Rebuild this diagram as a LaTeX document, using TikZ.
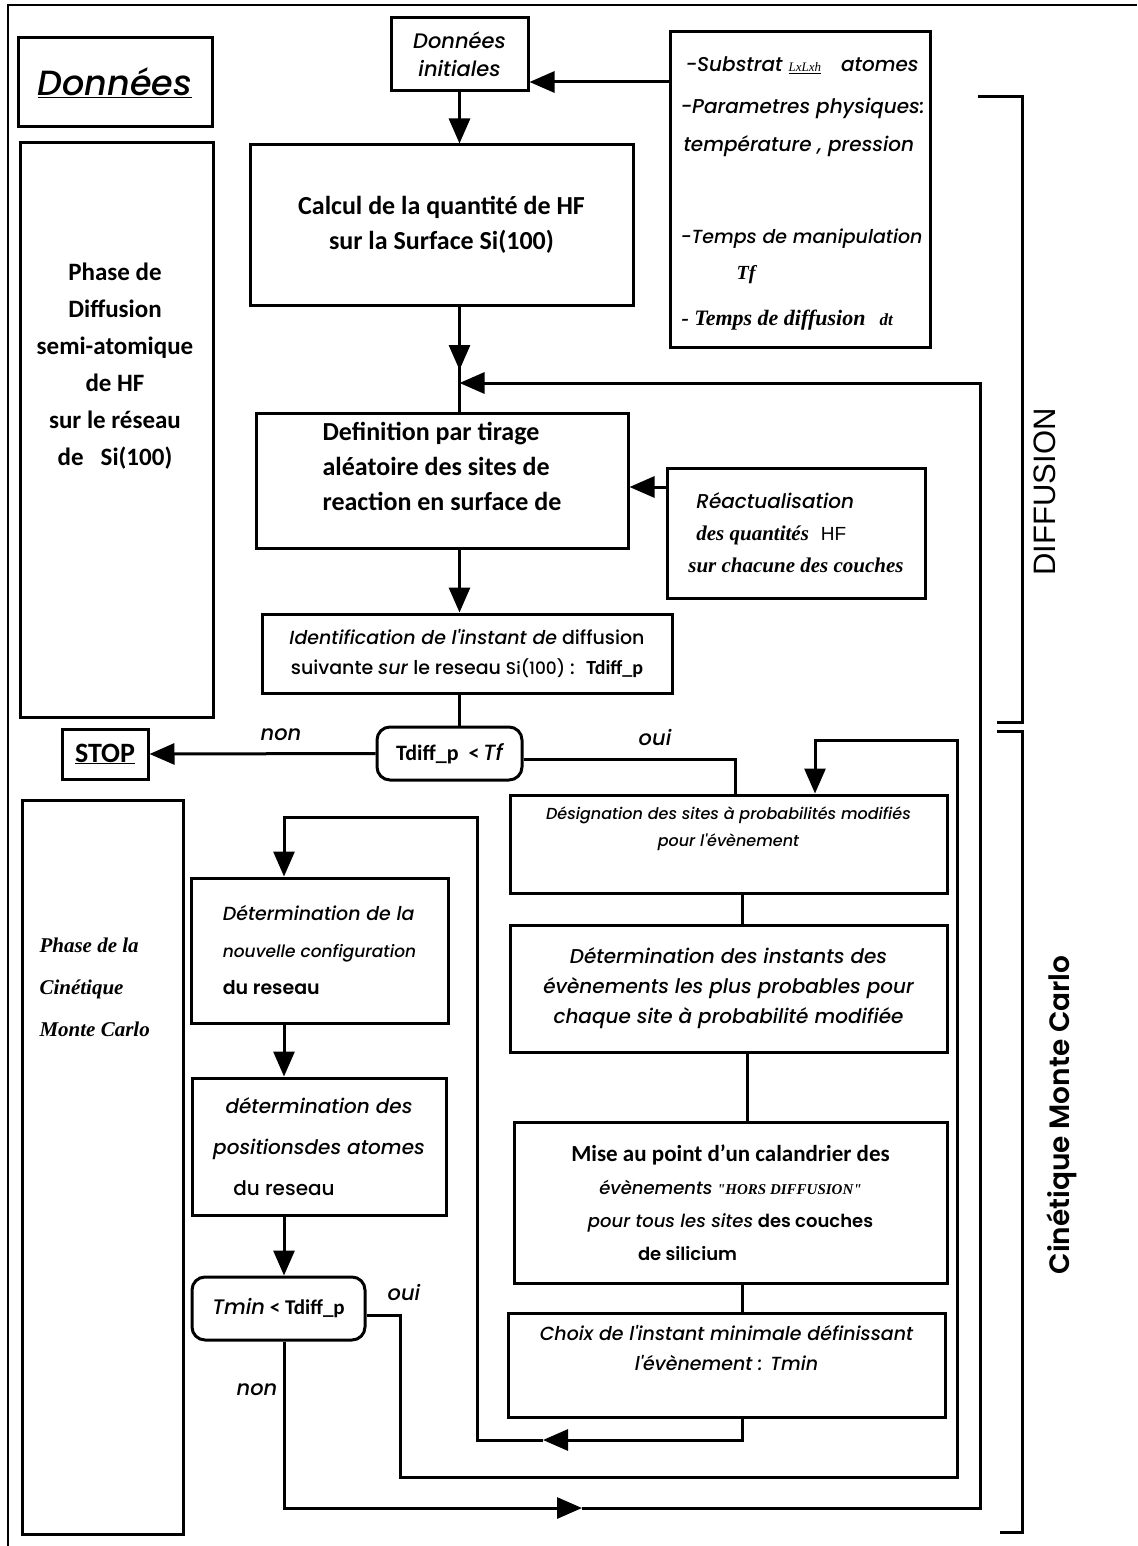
\documentclass[tikz,border=0pt]{standalone}
\usepackage{fontspec}
\usepackage{tikz}
\usetikzlibrary{arrows.meta}
\setmainfont{Carlito}
\newfontfamily\gothic{Poppins}[UprightFont=* Medium,ItalicFont=* Medium Italic,BoldFont=* SemiBold,BoldItalicFont=* SemiBold Italic]
\newfontfamily\romanit{Liberation Serif}
\newfontfamily\helv{Liberation Sans}
\newcommand{\fs}[2]{\fontsize{#1}{#2}\selectfont}

\begin{document}
\begin{tikzpicture}[x=1pt,y=-1pt,
  box/.style={draw,line width=3pt,inner sep=0pt,align=center},
  test/.style={box,rounded corners=13pt},
  link/.style={line width=3pt},
  arr/.style={link,-{Triangle[length=25pt,width=21pt]}},
  brace/.style={line width=3pt},
  lbl/.style={font={\gothic\itshape\fs{21}{24}}}]
\useasboundingbox (0,0) rectangle (1137,1546);

% outer frame
\draw[line width=2.5pt] (8,1546) -- (8,5) -- (1137,5);

% left column
\node[box,minimum width=194,minimum height=89,font={\gothic\itshape\fs{35}{40}}] (data) at (115,82.5) {\underline{Données}};
\node[box,minimum width=193,minimum height=574] (phdiff) at (116.5,430) {};
\node[align=center,font={\bfseries\fs{25}{37}}] (phdifftxt) at (115,366) {Phase de\\Diffusion\\semi-atomique\\de HF\\sur le réseau\\de \ \ Si(100)};
\node[box,minimum width=86,minimum height=50,font={\bfseries\fs{28}{30}}] (stop) at (105,754) {\underline{STOP}};
\node[box,minimum width=161,minimum height=734] (phcin) at (102.5,1167) {};
\node[anchor=west,align=left,font={\romanit\bfseries\itshape\fs{21}{42}}] (phcintxt) at (36,987) {Phase de la\\ Cinétique\\ Monte Carlo};

% initial data
\node[box,minimum width=137,minimum height=73,font={\gothic\itshape\fs{21}{28}}] (datinit) at (459.5,54.5) {Données\\initiales};
\node[box,minimum width=260,minimum height=315] (params) at (800,189.5) {};
\node[anchor=west,font={\gothic\itshape\fs{20}{24}}] (p1) at (682,65) {-Substrat {\romanit\fs{13}{13}\underline{LxLxh}}\quad atomes};
\node[anchor=west,font={\gothic\itshape\fs{20}{24}}] (p2) at (677,108) {-Parametres physiques:};
\node[anchor=west,font={\gothic\itshape\fs{20}{24}}] (p3) at (680,146) {température , pression};
\node[anchor=west,font={\gothic\itshape\fs{19}{24}}] (p4) at (677,239) {-Temps de manipulation};
\node[anchor=west,font={\romanit\bfseries\itshape\fs{20}{24}}] (p5) at (733,275) {Tf};
\node[anchor=west,font={\romanit\bfseries\itshape\fs{22}{24}}] (p6) at (678,320) {- Temps de diffusion\hspace{14pt}{\fs{17}{17}dt}};

% diffusion phase
\node[box,minimum width=383,minimum height=160,font={\bfseries\fs{26}{35}}] (calc) at (441.5,225) {Calcul de la quantité de HF\\sur la Surface Si(100)};
\node[box,minimum width=372,minimum height=135,align=left,font={\bfseries\fs{26}{35}}] (defi) at (442,480.5) {Definition par tirage\\aléatoire des sites de\\reaction en surface de\\[-6pt]\ };
\node[box,minimum width=258,minimum height=130,align=left,font={\gothic\itshape\fs{20}{32}}] (reac) at (796,533) {\hspace*{8pt}Réactualisation\\\hspace*{8pt}{\romanit\bfseries\fs{21}{32}des quantités}\ \ {\helv\upshape\fs{19}{32}HF}\\{\romanit\bfseries\fs{21}{32}sur chacune des couches}};
\node[box,minimum width=410,minimum height=79,font={\gothic\fs{19}{30}}] (ident) at (467,653.5) {\textit{Identification de l'instant de} diffusion\\suivante \textit{sur} le reseau {\fs{17}{30}Si(100)} : \ {\rmfamily\bfseries\fs{20}{30}Tdiff\_p}};
\node[test,minimum width=145,minimum height=53,font={\bfseries\fs{22}{24}}] (dec1) at (449.5,753.5) {Tdiff\_p \ <{\gothic\itshape\mdseries\,Tf}};

% kinetic Monte Carlo phase
\node[box,minimum width=437,minimum height=98,font={\gothic\itshape\fs{16}{27}}] (desig) at (728.5,844) {Désignation des sites à probabilités modifiés\\pour l'évènement\\[8pt]};
\node[box,minimum width=437,minimum height=127,font={\gothic\itshape\fs{20}{30}}] (inst) at (728.5,988.5) {Détermination des instants des\\évènements les plus probables pour\\chaque site à probabilité modifiée};
\node[box,minimum width=433,minimum height=161,font={\gothic\fs{18}{33}}] (mise) at (730.5,1202.5) {{\bfseries\rmfamily\fs{23}{33}Mise au point d'un calandrier des}\\\textit{évènements} {\romanit\bfseries\itshape\fs{15}{33}"HORS DIFFUSION"}\\\textit{pour tous les sites} {\bfseries des couches}\\{\bfseries de silicium}\hspace*{86pt}};
\node[box,minimum width=437,minimum height=104,font={\gothic\itshape\fs{19}{30}}] (choix) at (726.5,1365) {Choix de l'instant minimale définissant\\l'évènement : Tmin\\[4pt]};
\node[box,minimum width=257,minimum height=145,align=left,font={\gothic\fs{19}{37}}] (config) at (319.5,950.5) {\textit{Détermination de la}\\\textit{\fs{17}{37}nouvelle configuration}\\{\bfseries du reseau}};
\node[box,minimum width=254,minimum height=137,font={\gothic\itshape\fs{20}{41}}] (pos) at (319,1146.5) {détermination des\\positionsdes atomes\\{\upshape du reseau}\hspace*{70pt}};
\node[test,minimum width=173,minimum height=63,font={\bfseries\fs{21}{24}}] (tmin) at (278.5,1308.5) {{\gothic\itshape\mdseries Tmin} < Tdiff\_p};

% decision labels
\node[lbl] (non1) at (281,735) {non};
\node[lbl] (oui1) at (655,738) {oui};
\node[lbl] (oui2) at (404,1292) {oui};
\node[lbl] (non2) at (257,1390) {non};

% side brackets
\draw[brace] (978,97) -- (1022,97) -- (1022,722) -- (997,722);
\draw[brace] (997,731) -- (1022,731) -- (1022,1532) -- (1000,1532);
\node[rotate=90,font={\helv\fs{31}{32}}] (diffl) at (1045,492) {DIFFUSION};
\node[rotate=90,font={\gothic\bfseries\fs{28}{30}}] (kmcl) at (1062,1115) {Cinétique Monte Carlo};

% axes of the flow
\coordinate (axC) at (datinit.south);
\coordinate (axR) at (742,0);
\coordinate (axM) at (284,0);

% diffusion links
\draw[arr] (params.west |- 0,82) -- (datinit.east |- 0,82);
\draw[arr] (datinit.south) -- (axC |- calc.north);
\draw[arr] (axC |- calc.south) -- (axC |- 0,370);
\draw[link] (axC |- 0,360) -- (axC |- defi.north);
\draw[arr] (reac.west |- 0,487) -- (defi.east |- 0,487);
\draw[arr] (axC |- defi.south) -- (axC |- ident.north);
\draw[link] (axC |- ident.south) -- (axC |- dec1.north);
\draw[arr] (dec1.west) -- (stop.east);
\draw[link] ([yshift=-6pt]dec1.east) -| ([xshift=6.5pt]desig.north);

% kinetic links
\draw[link] (axR |- desig.south) -- (axR |- inst.north);
\draw[link] ([xshift=5pt]axR |- inst.south) -- ([xshift=5pt]axR |- mise.north);
\draw[link] (axR |- mise.south) -- (axR |- choix.north);
\coordinate (retA) at (543,1440);
\draw[arr] (axR |- choix.south) -- (axR |- retA) -- (retA);
\draw[arr] (retA) -- (477,1440) -- (477,817) -- (axM |- 0,817) -- (axM |- config.north);
\draw[arr] (axM |- config.south) -- (axM |- pos.north);
\draw[arr] (axM |- pos.south) -- (axM |- tmin.north);

% back to the diffusion loop
\coordinate (retB) at (582,1508);
\draw[arr] (axM |- tmin.south) -- (axM |- retB) -- (retB);
\draw[arr] (retB) -- (980,1508) -- (980,383) -- (axC |- 0,383);
\draw[arr] ([yshift=-6.5pt]tmin.east) -- (400,1315) -- (400,1477) -- (957,1477) -- (957,740) -| ([xshift=86.5pt]desig.north);
\end{tikzpicture}
\end{document}
